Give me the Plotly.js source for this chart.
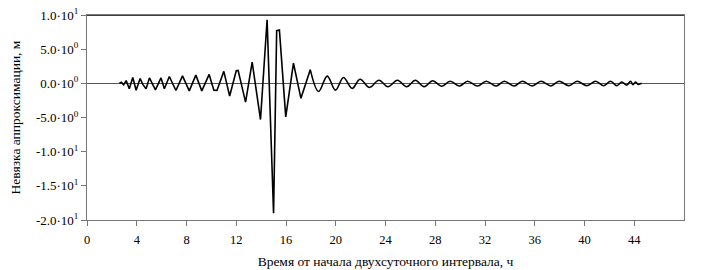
<!DOCTYPE html>
<html>
<head>
<meta charset="utf-8">
<script src="https://cdn.plot.ly/plotly-3.0.1.min.js"></script>
<style>html,body{margin:0;padding:0;background:#fff;}#chart{width:703px;height:270px;}</style>
</head>
<body>
<div id="chart"></div>
<script>
// Time from start of the two-day interval, hours (vertices)
const hours = [2.6, 2.75, 2.95, 3.15, 3.4, 3.68, 3.95, 4.27, 4.5, 4.75, 5.02, 5.5, 5.95, 6.22, 6.62, 7.15, 7.68, 8.22, 8.75, 9.23, 9.82, 10.2, 10.45, 11.0, 11.47, 12.0, 12.15, 12.75, 13.28, 13.95, 14.48, 15.0, 15.25, 15.47, 15.98, 16.6, 17.2, 17.95, 18.62, 19.32, 19.98, 20.62, 21.32, 21.95, 22.72, 23.47, 24.2, 24.96, 25.7, 26.4, 27.1, 27.8, 28.5, 29.2, 29.95, 30.6, 31.4, 32.1, 32.9, 33.55, 34.35, 35.0, 35.8, 36.5, 37.3, 37.95, 38.75, 39.4, 40.2, 40.9, 41.55, 42.1, 42.6, 43.0, 43.4, 43.7, 43.9, 44.1, 44.3, 44.6];
// Approximation residual, m
const residual = [0, 0.15, -0.2, 0.4, -0.8, 0.85, -1.0, 0.7, -0.2, -0.8, 0.8, -0.95, 0.8, -0.8, 1.0, -1.05, 1.1, -1.1, 1.2, -1.1, 1.3, -1.0, -1.05, 1.75, -1.85, 1.85, 1.9, -2.75, 3.1, -5.3, 9.3, -19.0, 7.7, 7.8, -4.9, 2.95, -2.2, 2.0, -1.2, 1.05, -1.0, 0.85, -0.75, 0.6, -0.6, 0.45, -0.5, 0.45, -0.5, 0.45, -0.5, 0.38, -0.42, 0.3, -0.4, 0.3, -0.4, 0.3, -0.4, 0.3, -0.4, 0.3, -0.38, 0.3, -0.38, 0.3, -0.35, 0.3, -0.35, 0.3, -0.35, 0.3, -0.35, 0.2, -0.25, 0.3, -0.2, 0.2, -0.15, 0];
const xTicks = [0, 4, 8, 12, 16, 20, 24, 28, 32, 36, 40, 44];
const yTicks = [10, 5, 0, -5, -10, -15, -20];
const yTickText = ['1.0·10<sup>1</sup>', '5.0·10<sup>0</sup>', '0.0·10<sup>0</sup>', '-5.0·10<sup>0</sup>', '-1.0·10<sup>1</sup>', '-1.5·10<sup>1</sup>', '-2.0·10<sup>1</sup>'];
const xTitle = 'Время от начала двухсуточного интервала, ч';
const yTitle = 'Невязка аппроксимации, м';

const FAM = 'Liberation Serif';
const split = 37; // index where the smooth tail starts (h = 17.95)

const sharp = {x: hours.slice(0, split + 1), y: residual.slice(0, split + 1)};
const tail = {x: hours.slice(split), y: residual.slice(split)};

Plotly.newPlot('chart', [
  {x: sharp.x, y: sharp.y, type: 'scatter', mode: 'lines',
   line: {color: '#000', width: 1.6}, hoverinfo: 'none'},
  {x: tail.x, y: tail.y, type: 'scatter', mode: 'lines',
   line: {color: '#000', width: 1.6, shape: 'spline', smoothing: 1}, hoverinfo: 'none'}
], {
  width: 703, height: 270,
  margin: {l: 87, r: 19, t: 15, b: 50, pad: 0},
  paper_bgcolor: '#fff', plot_bgcolor: '#fff',
  font: {family: FAM, size: 12, color: '#000'},
  showlegend: false,
  xaxis: {
    range: [0, 48], tickvals: xTicks, ticktext: xTicks.map(String),
    showgrid: false, zeroline: false,
    showline: true, linecolor: '#777', linewidth: 1, mirror: true,
    ticks: 'outside', ticklen: 5, tickcolor: '#777', tickwidth: 1,
    ticklabelstandoff: 3,
    tickfont: {family: FAM, size: 12.5, color: '#000'},
    title: {text: xTitle, font: {family: FAM, size: 13.5, color: '#000'}, standoff: 10}
  },
  yaxis: {
    range: [-20, 10], tickvals: yTicks, ticktext: yTickText,
    showgrid: false,
    zeroline: true, zerolinecolor: '#555', zerolinewidth: 1.6,
    showline: true, linecolor: '#777', linewidth: 1, mirror: true,
    ticks: 'outside', ticklen: 5, tickcolor: '#777', tickwidth: 1,
    tickfont: {family: FAM, size: 13, color: '#000'},
    title: {text: yTitle, font: {family: FAM, size: 13.5, color: '#000'}, standoff: 12}
  },
  shapes: [{type: 'line', xref: 'paper', yref: 'y', x0: 0, x1: 1, y0: 10, y1: 10, line: {color: '#000', width: 1.5}}]
}, {staticPlot: true, displayModeBar: false});
</script>
</body>
</html>
